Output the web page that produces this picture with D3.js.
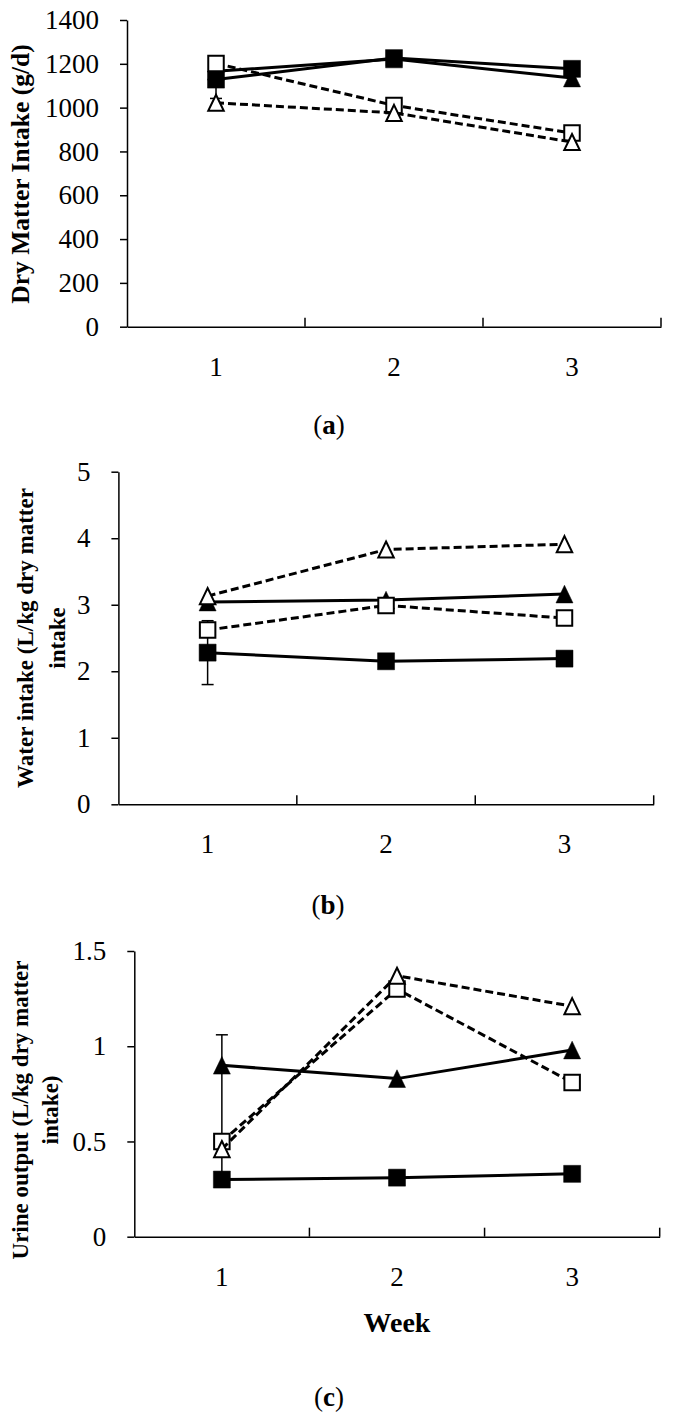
<!DOCTYPE html>
<html><head><meta charset="utf-8">
<script src="https://cdn.jsdelivr.net/npm/d3@7"></script>
<style>
body{margin:0;background:#fff}
svg text{font-family:"Liberation Serif","Times New Roman",serif;fill:#000}
</style>
</head><body><svg id="chart" width="673" height="1418"></svg>
<script>
// ---------- data ----------
const weeks = ["1", "2", "3"];

// (a) Dry matter intake, g/d
const dmiTicks = [0, 200, 400, 600, 800, 1000, 1200, 1400];
const dmiFilledSquare   = [1128, 1226, 1177];
const dmiFilledTriangle = [1166, 1222, 1135];
const dmiOpenSquare     = [1202, 1010, 884];
const dmiOpenTriangle   = [1022, 976, 843];
const dmiErrorBar = [1042, 1212];          // filled square, week 1 (low, high)

// (b) Water intake, L/kg DMI
const waterTicks = [0, 1, 2, 3, 4, 5];
const waterFilledSquare   = [2.28, 2.15, 2.19];
const waterFilledTriangle = [3.04, 3.07, 3.16];
const waterOpenSquare     = [2.62, 2.99, 2.80];
const waterOpenTriangle   = [3.13, 3.83, 3.91];
const waterErrorBar = [1.80, 2.76];        // filled square, week 1

// (c) Urine output, L/kg DMI
const urineTicks = [0, 0.5, 1, 1.5];
const urineFilledSquare   = [0.30, 0.31, 0.33];
const urineFilledTriangle = [0.90, 0.83, 0.98];
const urineOpenSquare     = [0.50, 1.30, 0.81];
const urineOpenTriangle   = [0.46, 1.37, 1.21];
const urineErrorBar = [0.30, 1.06];        // filled square, week 1

// ---------- drawing ----------
const svg = d3.select("#chart");
const seriesStyles = [
  {shape: "square",   filled: true,  dash: null},
  {shape: "triangle", filled: true,  dash: null},
  {shape: "square",   filled: false, dash: "8,4"},
  {shape: "triangle", filled: false, dash: "8,4"}
];

function markerPath(shape, cx, cy, s) {
  const h = s / 2;
  if (shape === "square") {
    return `M${cx - h},${cy - h}H${cx + h}V${cy + h}H${cx - h}Z`;
  }
  const th = s * 1.04 / 2;
  return `M${cx},${cy - th}L${cx + h},${cy + th}L${cx - h},${cy + th}Z`;
}

function drawPanel(cfg) {
  const g = svg.append("g");
  const x = d3.scaleBand().domain(weeks).range([cfg.x0, cfg.x1]);
  const y = d3.scaleLinear().domain([0, cfg.max]).range([cfg.yb, cfg.yt]);
  const cx = w => x(w) + x.bandwidth() / 2;

  // y axis
  const ya = g.append("g").attr("transform", `translate(${cfg.x0},0)`)
    .call(d3.axisLeft(y).tickValues(cfg.ticks).tickSize(7).tickSizeOuter(0)
      .tickPadding(21).tickFormat(d => String(d)));
  ya.select(".domain").attr("stroke-width", 1.5);
  ya.selectAll(".tick line").attr("stroke-width", 1.5);
  ya.selectAll(".tick text").attr("font-size", 27)
    .attr("font-family", "Liberation Serif").attr("fill", "#000");

  // x axis: labels at band centres, inward ticks at band edges
  const xa = g.append("g").attr("transform", `translate(0,${cfg.yb})`)
    .call(d3.axisBottom(x).tickSize(0).tickSizeOuter(0).tickPadding(30));
  xa.select(".domain").attr("stroke-width", 1.5);
  xa.selectAll(".tick text").attr("font-size", 27)
    .attr("font-family", "Liberation Serif").attr("fill", "#000");
  g.selectAll(".bandtick").data(weeks).join("line")
    .attr("x1", w => x(w) + x.bandwidth()).attr("x2", w => x(w) + x.bandwidth())
    .attr("y1", cfg.yb).attr("y2", cfg.yb - 9)
    .attr("stroke", "#000").attr("stroke-width", 1.5);

  // error bar (filled square series, week 1)
  const ex = cx(weeks[0]);
  const eb = g.append("g").attr("stroke", "#000").attr("stroke-width", 1.5);
  eb.append("line").attr("x1", ex).attr("x2", ex)
    .attr("y1", y(cfg.err[0])).attr("y2", y(cfg.err[1]));
  eb.append("line").attr("x1", ex - 6).attr("x2", ex + 6)
    .attr("y1", y(cfg.err[1])).attr("y2", y(cfg.err[1]));
  if (cfg.errLowCap) {
    eb.append("line").attr("x1", ex - 6).attr("x2", ex + 6)
      .attr("y1", y(cfg.err[0])).attr("y2", y(cfg.err[0]));
  }

  const line = d3.line().x((d, i) => cx(weeks[i])).y(d => y(d));
  cfg.series.forEach((vals, si) => {
    const st = seriesStyles[si];
    g.append("path").attr("d", line(vals)).attr("fill", "none")
      .attr("stroke", "#000").attr("stroke-width", 3)
      .attr("stroke-dasharray", st.dash);
    g.selectAll(null).data(vals).join("path")
      .attr("d", (d, i) => markerPath(st.shape, cx(weeks[i]), y(d), st.filled ? 17 : 15.5))
      .attr("fill", st.filled ? "#000" : "#fff")
      .attr("stroke", "#000").attr("stroke-width", st.filled ? 0.5 : 2)
      .attr("stroke-linejoin", "miter");
  });

  // y title
  cfg.title.forEach(t => {
    g.append("text")
      .attr("transform", `translate(${t.x},${cfg.titleY}) rotate(-90)`)
      .attr("text-anchor", "middle").attr("dy", "0.35em")
      .attr("font-size", cfg.titleSize).attr("font-weight", "bold")
      .text(t.text);
  });

  // caption
  const cap = g.append("text").attr("x", cfg.capX).attr("y", cfg.capY)
    .attr("text-anchor", "middle").attr("dy", "0.35em").attr("font-size", 27);
  cap.append("tspan").text("(");
  cap.append("tspan").attr("font-weight", "bold").text(cfg.capLetter);
  cap.append("tspan").text(")");
}

drawPanel({
  x0: 127, x1: 661, yb: 326.7, yt: 20, max: 1400, ticks: dmiTicks,
  series: [dmiFilledSquare, dmiFilledTriangle, dmiOpenSquare, dmiOpenTriangle],
  err: dmiErrorBar, errLowCap: true,
  title: [{x: 20, text: "Dry Matter Intake (g/d)"}], titleY: 174, titleSize: 25.5,
  capX: 329, capY: 425, capLetter: "a"
});
drawPanel({
  x0: 118.4, x1: 653.7, yb: 804.3, yt: 471.7, max: 5, ticks: waterTicks,
  series: [waterFilledSquare, waterFilledTriangle, waterOpenSquare, waterOpenTriangle],
  err: waterErrorBar, errLowCap: true,
  title: [{x: 25, text: "Water intake (L/kg dry matter"}, {x: 57, text: "intake"}],
  titleY: 638, titleSize: 23,
  capX: 328, capY: 905, capLetter: "b"
});
drawPanel({
  x0: 134.3, x1: 659.7, yb: 1236.7, yt: 951, max: 1.5, ticks: urineTicks,
  series: [urineFilledSquare, urineFilledTriangle, urineOpenSquare, urineOpenTriangle],
  err: urineErrorBar, errLowCap: false,
  title: [{x: 20, text: "Urine output (L/kg dry matter"}, {x: 50, text: "intake)"}],
  titleY: 1110, titleSize: 23,
  capX: 329, capY: 1397, capLetter: "c"
});

svg.append("text").attr("x", 397).attr("y", 1322).attr("dy", "0.35em")
  .attr("text-anchor", "middle").attr("font-size", 28).attr("font-weight", "bold")
  .text("Week");
</script>
</body></html>
